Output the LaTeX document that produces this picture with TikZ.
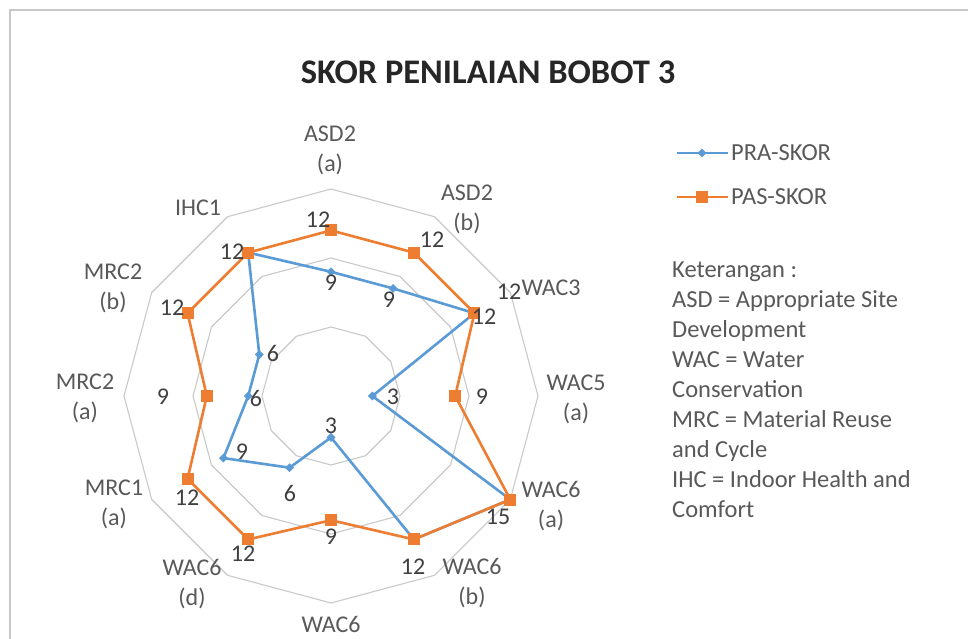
\documentclass[tikz,border=0pt]{standalone}
\usepackage{fontspec}
\setmainfont{Carlito}
\usetikzlibrary{shapes.geometric}
\definecolor{prablue}{HTML}{5B9BD5}
\definecolor{pasorange}{HTML}{ED7D31}
\definecolor{gridgray}{HTML}{C9C9C9}
\definecolor{labgray}{HTML}{595959}
\definecolor{datgray}{HTML}{404040}
\definecolor{titlegray}{HTML}{262626}
\definecolor{framegray}{HTML}{C8C8C8}
\begin{document}
\begin{tikzpicture}[x=1pt,y=1pt,
  gridline/.style={draw=gridgray, line width=1.1pt},
  praline/.style={draw=prablue, line width=2.6pt, line join=round},
  pasline/.style={draw=pasorange, line width=2.6pt, line join=round},
  pramark/.style={diamond, fill=prablue, inner sep=0pt, minimum size=9pt},
  pasmark/.style={rectangle, fill=pasorange, inner sep=0pt, minimum size=12pt},
  catlab/.style={text=labgray, font=\fontsize{24}{30}\selectfont, align=center, inner sep=0pt},
  datlab/.style={text=datgray, font=\fontsize{24}{30}\selectfont, inner sep=0pt},
  titlelab/.style={text=titlegray, font=\fontsize{34.5}{40}\selectfont\bfseries, inner sep=0pt},
  legtext/.style={text=labgray, font=\fontsize{24.5}{30}\selectfont, inner sep=0pt, anchor=west},
  notetext/.style={text=labgray, font=\fontsize{24.5}{30}\selectfont, inner sep=0pt, align=left, anchor=north west},
]
\useasboundingbox (0,0) rectangle (968,-639);
\fill[white] (0,0) rectangle (968,-639);
\draw[framegray, line width=1.5pt] (10,-639) -- (10,-10) -- (968,-10);

\node[titlelab] (title) at (488,-72) {SKOR PENILAIAN BOBOT 3};

\begin{scope}[shift={(331,-396)}]
  \foreach \r in {69,138,207}
    \draw[gridline] (90:\r) \foreach \a in {60,30,...,-240} { -- (\a:\r) } -- cycle;
  \foreach \v [count=\i from 0] in {9,9,12,3,15,12,3,6,9,6,6,12}
    \coordinate (pra\i) at ({90-30*\i}:{13.8*\v});
  \foreach \v [count=\i from 0] in {12,12,12,9,15,12,9,12,12,9,12,12}
    \coordinate (pas\i) at ({90-30*\i}:{13.8*\v});
\end{scope}

% PRA-SKOR series
\draw[praline] (pra0) -- (pra1) -- (pra2) -- (pra3) -- (pra4) -- (pra5) -- (pra6)
  -- (pra7) -- (pra8) -- (pra9) -- (pra10) -- (pra11) -- cycle;
\foreach \i in {0,...,11} \node[pramark] (prm\i) at (pra\i) {};

% PAS-SKOR series
\draw[pasline] (pas0) -- (pas1) -- (pas2) -- (pas3) -- (pas4) -- (pas5) -- (pas6)
  -- (pas7) -- (pas8) -- (pas9) -- (pas10) -- (pas11) -- cycle;
\foreach \i in {0,...,11} \node[pasmark] (psm\i) at (pas\i) {};

% data labels PAS
\node[datlab] (d1) at (318,-220) {12};
\node[datlab] (d2) at (432,-240) {12};
\node[datlab] (d3) at (509,-292) {12};
\node[datlab] (d4) at (484,-317) {12};
\node[datlab] (d5) at (482,-397) {9};
\node[datlab] (d6) at (498,-517) {15};
\node[datlab] (d7) at (413,-567) {12};
\node[datlab] (d8) at (331,-537) {9};
\node[datlab] (d9) at (243,-554) {12};
\node[datlab] (d10) at (187,-498) {12};
\node[datlab] (d11) at (163,-397) {9};
\node[datlab] (d12) at (172,-308) {12};
\node[datlab] (d13) at (232,-252) {12};
% data labels PRA
\node[datlab] (e1) at (331,-283) {9};
\node[datlab] (e2) at (389,-300) {9};
\node[datlab] (e3) at (393,-397) {3};
\node[datlab] (e4) at (331,-426) {3};
\node[datlab] (e5) at (290,-493) {6};
\node[datlab] (e6) at (242,-452) {9};
\node[datlab] (e7) at (256,-398) {6};
\node[datlab] (e8) at (273,-353) {6};

% category labels
\node[catlab] (c1) at (330,-150) {ASD2\\(a)};
\node[catlab] (c2) at (467,-209) {ASD2\\(b)};
\node[catlab] (c3) at (551,-288) {WAC3};
\node[catlab] (c4) at (576,-399) {WAC5\\(a)};
\node[catlab] (c5) at (551,-506) {WAC6\\(a)};
\node[catlab] (c6) at (472,-583) {WAC6\\(b)};
\node[catlab] (c7) at (331,-624) {WAC6};
\node[catlab] (c8) at (192,-584) {WAC6\\(d)};
\node[catlab] (c9) at (114,-504) {MRC1\\(a)};
\node[catlab] (c10) at (85,-398) {MRC2\\(a)};
\node[catlab] (c11) at (113,-288) {MRC2\\(b)};
\node[catlab] (c12) at (198,-208) {IHC1};

% legend
\coordinate (la1) at (677,-153); \coordinate (lb1) at (728,-153);
\draw[praline] (la1) -- (lb1);
\node[pramark] (lm1) at (702,-153) {};
\node[legtext] (lt1) at (731,-153) {PRA-SKOR};
\coordinate (la2) at (677,-197); \coordinate (lb2) at (728,-197);
\draw[pasline] (la2) -- (lb2);
\node[pasmark] (lm2) at (702,-197) {};
\node[legtext] (lt2) at (731,-197) {PAS-SKOR};

% notes
\node[notetext] (note) at (672,-262) {Keterangan :\\ASD = Appropriate Site\\Development\\WAC = Water\\Conservation\\MRC = Material Reuse\\and Cycle\\IHC = Indoor Health and\\Comfort};
\end{tikzpicture}
\end{document}
